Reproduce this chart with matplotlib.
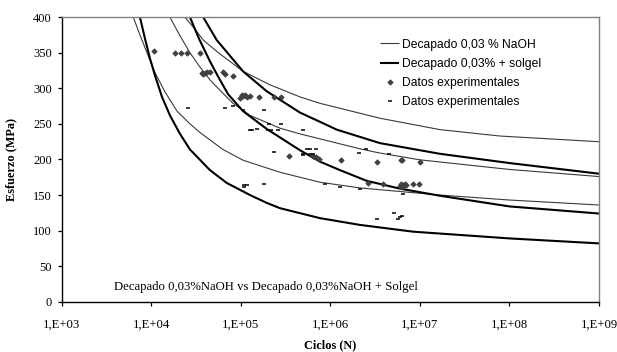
import numpy as np
import matplotlib
matplotlib.use("Agg")
import matplotlib.pyplot as plt

# ---- data (log10 of cycles, stress MPa) ----
# Decapado 0,03 % NaOH (thin lines)
naoh_low_logN = [3.800, 3.874, 3.953, 4.042, 4.154, 4.288, 4.433, 4.544, 4.801, 5.025, 5.438, 5.884, 6.331, 7.224, 8.0, 9.0]
naoh_low_S    = [400, 375, 350, 322, 295, 268, 250, 238, 214, 199, 182, 168, 160, 150, 143, 136]
naoh_mid_logN = [4.209, 4.321, 4.433, 4.544, 4.656, 4.801, 4.913, 5.103, 5.438, 5.661, 5.884, 6.331, 6.555, 7.001, 8.0, 9.0]
naoh_mid_S    = [400, 374, 350, 330, 312, 293, 279, 262, 244, 236, 229, 215, 209, 199.5, 186, 176]
naoh_high_logN = [4.377, 4.489, 4.581, 4.731, 5.025, 5.326, 5.661, 5.884, 6.555, 7.224, 7.894, 9.0]
naoh_high_S    = [400, 383, 368, 352, 324, 305, 288, 279, 258, 242, 233, 225]

# Decapado 0,03% + solgel (thick lines)
sol_low_logN = [3.874, 3.930, 3.986, 4.042, 4.120, 4.209, 4.321, 4.433, 4.656, 4.843, 5.103, 5.289, 5.438, 5.884, 6.331, 6.923, 8.0, 9.0]
sol_low_S    = [400, 370, 342, 318, 288, 262, 236, 214, 185, 167, 150, 139, 131.5, 117.5, 108, 98.5, 89, 82]
sol_mid_logN = [4.433, 4.489, 4.544, 4.656, 4.745, 4.857, 5.025, 5.289, 5.438, 5.661, 5.884, 6.108, 6.406, 6.778, 7.224, 8.0, 9.0]
sol_mid_S    = [400, 383, 367, 338, 317, 292, 268, 243, 231, 213, 197, 185, 170, 159, 149, 134, 124]
sol_high_logN = [4.581, 4.731, 5.025, 5.289, 5.661, 5.884, 6.071, 6.555, 7.224, 8.0, 9.0]
sol_high_S    = [400, 368, 324, 296, 266, 253, 242, 223, 208, 195, 180]

# experimental data: diamonds
dia_logN = [4.031, 4.265, 4.332, 4.399, 4.548,
            4.563, 4.581, 4.60, 4.62, 4.656, 4.798, 4.824, 4.916,
            4.99, 5.01, 5.03, 5.05, 5.066, 5.103, 5.207, 5.371, 5.446,
            5.542, 5.81, 5.837, 5.873, 6.119, 6.517, 6.786, 6.80, 7.001,
            6.424, 6.59, 6.778, 6.79, 6.80, 6.815, 6.83, 6.845, 6.926, 6.99]
dia_S = [353, 350, 350, 350, 350,
         322, 320, 322, 323, 323, 323, 320, 318,
         287, 290, 289, 290, 288, 289, 288, 288, 288,
         205, 205, 204, 201, 199, 197, 199, 199, 197,
         167, 165, 163, 165, 162, 164, 165, 164, 165, 165]

# experimental data: dashes
dash_logN = [4.407, 4.824, 4.916, 5.021, 5.263,
             5.10, 5.13, 5.184, 5.307, 5.333, 5.419, 5.698, 5.318, 5.446,
             5.371, 5.743, 5.77, 5.84, 6.398,
             5.691, 5.70, 5.773, 5.81, 6.32, 6.655,
             5.036, 5.04, 5.073, 5.259, 5.94, 6.108, 6.331, 6.815,
             6.524, 6.71, 6.76, 6.778, 6.80]
dash_S = [272, 272, 275, 270, 269,
          242, 242, 243, 242, 242, 242, 242, 250, 250,
          211, 215, 215, 215, 215,
          207, 208, 208, 208, 209, 208,
          162, 164, 164, 166, 165, 162, 159, 152,
          116, 125, 117, 119, 121]

y_ticks = [0, 50, 100, 150, 200, 250, 300, 350, 400]
x_tick_exp = [3, 4, 5, 6, 7, 8, 9]
x_tick_labels = ["1,E+03", "1,E+04", "1,E+05", "1,E+06", "1,E+07", "1,E+08", "1,E+09"]

serif = ["Liberation Serif", "DejaVu Serif"]
sans = ["Liberation Sans", "DejaVu Sans"]

fig = plt.figure(figsize=(6.17, 3.52), dpi=100)
ax = fig.add_axes([0.1, 0.1429, 0.8708, 0.808])

thin_kw = dict(color="#3a3a3a", lw=0.8)
thick_kw = dict(color="black", lw=1.5)

def pl(lg, s, **kw):
    return ax.plot(10 ** np.asarray(lg), s, solid_capstyle="butt", **kw)[0]

h_thin = pl(naoh_low_logN, naoh_low_S, **thin_kw)
pl(naoh_mid_logN, naoh_mid_S, **thin_kw)
pl(naoh_high_logN, naoh_high_S, **thin_kw)
h_thick = pl(sol_low_logN, sol_low_S, **thick_kw)
pl(sol_mid_logN, sol_mid_S, **thick_kw)
pl(sol_high_logN, sol_high_S, **thick_kw)

h_dia, = ax.plot(10 ** np.asarray(dia_logN), dia_S, ls="none", marker="D",
                 ms=2.8, color="#404040", mec="#404040", mew=0.5)
h_dash, = ax.plot(10 ** np.asarray(dash_logN), dash_S, ls="none", marker="_",
                  ms=3.2, color="black", mew=1.1)

ax.set_xscale("log")
ax.set_xlim(1e3, 1e9)
ax.set_ylim(0, 400)
ax.set_xticks([10.0 ** e for e in x_tick_exp])
ax.set_xticklabels(x_tick_labels)
ax.xaxis.set_minor_locator(matplotlib.ticker.NullLocator())
ax.set_yticks(y_ticks)
ax.set_yticklabels([str(v) for v in y_ticks])
for lab in ax.get_xticklabels():
    lab.set_fontfamily(serif)
    lab.set_fontsize(9.2)
for lab in ax.get_yticklabels():
    lab.set_fontfamily(serif)
    lab.set_fontsize(9)
ax.tick_params(axis="x", direction="out", length=3, width=0.9, pad=9.0)
ax.tick_params(axis="y", direction="out", length=3, width=0.9, pad=4)

for side in ["left", "bottom"]:
    ax.spines[side].set_color("black")
    ax.spines[side].set_linewidth(1.0)
for side in ["top", "right"]:
    ax.spines[side].set_color("#808080")
    ax.spines[side].set_linewidth(1.0)

fig.text(11.7 / 617, 0.547, "Esfuerzo (MPa)", rotation=90, ha="center", va="center",
         fontfamily=serif, fontweight="bold", fontsize=8.8)
fig.text(330 / 617, (352 - 345) / 352, "Ciclos (N)", ha="center", va="center",
         fontfamily=serif, fontweight="bold", fontsize=8.8)

ax.text(0.098, 0.053, "Decapado 0,03%NaOH vs Decapado 0,03%NaOH + Solgel",
        transform=ax.transAxes, ha="left", va="center", fontfamily=serif, fontsize=9.2)

leg = ax.legend([h_thin, h_thick, h_dia, h_dash],
                ["Decapado 0,03 % NaOH", "Decapado 0,03% + solgel",
                 "Datos experimentales", "Datos experimentales"],
                loc="upper left", bbox_to_anchor=(0.582, 0.946), frameon=False,
                prop={"family": sans, "size": 8.7}, handlelength=1.55,
                handletextpad=0.2, labelspacing=0.6, borderpad=0, numpoints=1)

fig.savefig("out.png", dpi=100)
